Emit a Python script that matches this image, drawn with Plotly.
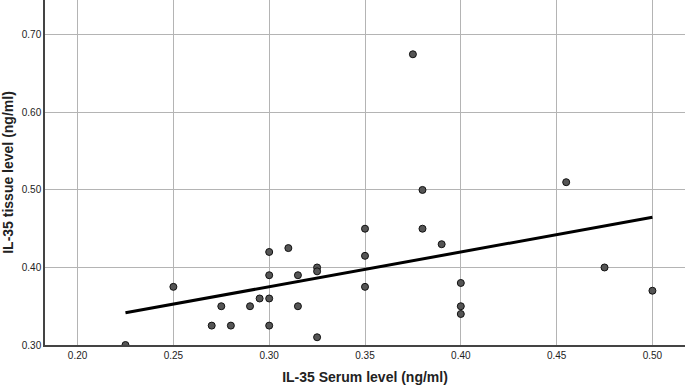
import numpy as np
import plotly.graph_objects as go

serum = [0.225, 0.25, 0.27, 0.275, 0.28, 0.29, 0.295, 0.30, 0.30, 0.30, 0.30,
         0.31, 0.315, 0.315, 0.325, 0.325, 0.325, 0.35, 0.35, 0.35, 0.375,
         0.38, 0.38, 0.39, 0.40, 0.40, 0.40, 0.455, 0.475, 0.50]
tissue = [0.30, 0.375, 0.325, 0.35, 0.325, 0.35, 0.36, 0.42, 0.39, 0.36, 0.325,
          0.425, 0.39, 0.35, 0.40, 0.395, 0.31, 0.45, 0.415, 0.375, 0.675,
          0.50, 0.45, 0.43, 0.38, 0.35, 0.34, 0.51, 0.40, 0.37]

x_ticks = [0.20, 0.25, 0.30, 0.35, 0.40, 0.45, 0.50]
y_ticks = [0.30, 0.40, 0.50, 0.60, 0.70]

slope, intercept = np.polyfit(serum, tissue, 1)
fx = [min(serum), max(serum)]
fy = [slope * v + intercept for v in fx]

fig = go.Figure()
fig.add_trace(go.Scatter(x=fx, y=fy, mode="lines",
                         line=dict(color="black", width=3), hoverinfo="skip"))
fig.add_trace(go.Scatter(x=serum, y=tissue, mode="markers",
                         marker=dict(size=7, color="#555555",
                                     line=dict(color="#111111", width=1))))

font = "Liberation Sans, Arial, sans-serif"
fig.update_layout(
    width=685, height=385,
    margin=dict(l=45, r=0, t=0, b=40),
    paper_bgcolor="white", plot_bgcolor="white",
    showlegend=False,
    font=dict(family=font, color="#222222"),
)
fig.update_xaxes(
    range=[0.183, 0.517], tickvals=x_ticks,
    ticktext=[f"{v:.2f}" for v in x_ticks],
    showgrid=True, gridcolor="#b4b4b4", gridwidth=1,
    showline=True, linecolor="#444444", linewidth=1.5,
    zeroline=False, ticks="", tickfont=dict(size=10, color="#222222"),
    title=dict(text="<b>IL-35 Serum level (ng/ml)</b>",
               font=dict(size=14, color="#222222"), standoff=12),
)
fig.update_yaxes(
    range=[0.30, 0.745], tickvals=y_ticks,
    ticktext=[f"{v:.2f}" for v in y_ticks],
    showgrid=True, gridcolor="#b4b4b4", gridwidth=1,
    showline=True, linecolor="#444444", linewidth=1.5,
    zeroline=False, ticks="", tickfont=dict(size=10, color="#222222"),
    title=dict(text="<b>IL-35 tissue level (ng/ml)</b>",
               font=dict(size=14, color="#222222"), standoff=6),
)

fig.write_html("out.html")
